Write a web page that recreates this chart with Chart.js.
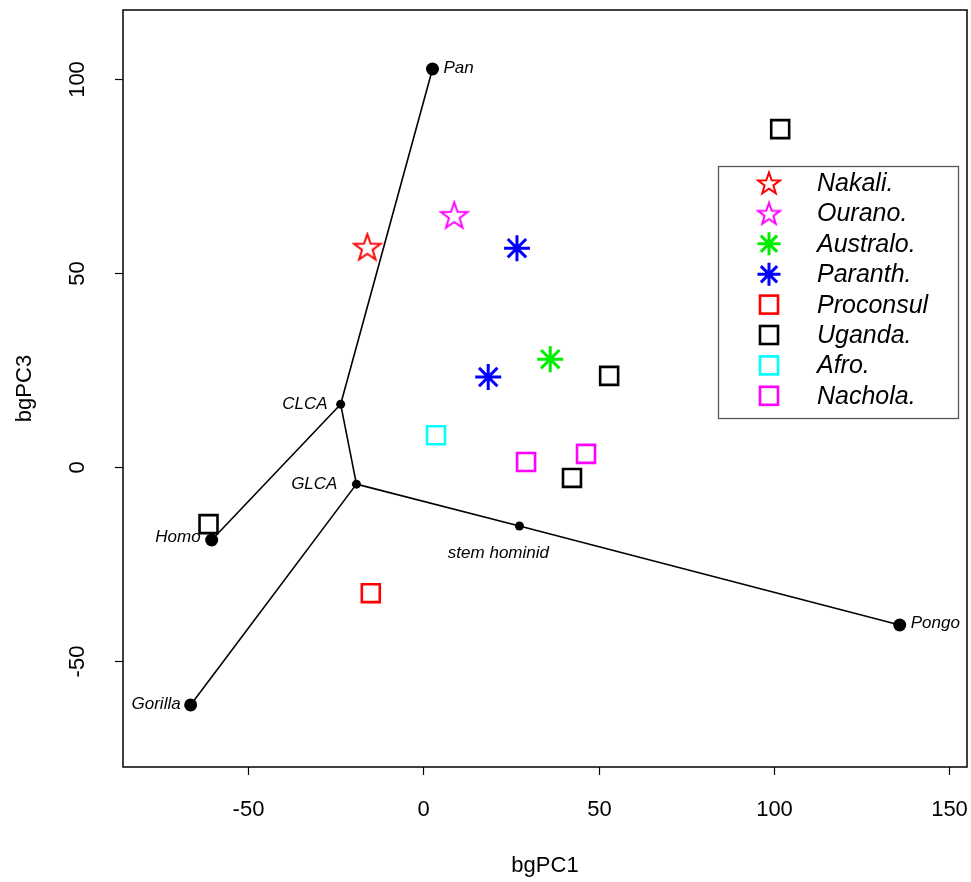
<!DOCTYPE html>
<html>
<head>
<meta charset="utf-8">
<script src="https://cdn.jsdelivr.net/npm/chart.js@4/dist/chart.umd.min.js"></script>
<style>
html,body{margin:0;padding:0;background:#fff;}
#wrap{width:971px;height:882px;}
</style>
</head>
<body>
<div id="wrap"><canvas id="c" width="971" height="882"></canvas></div>
<script>
// ---- data ----
const nodeNames = ['Pan','CLCA','GLCA','Homo','Gorilla','stem hominid','Pongo'];
const nodeX = [2.6, -23.6, -19.1, -60.4, -66.4, 27.4, 135.9];
const nodeY = [102.6, 16.2, -4.4, -18.8, -61.3, -15.2, -40.7];
const edgeFrom = [0, 1, 1, 2, 2, 5];
const edgeTo   = [1, 3, 2, 4, 5, 6];

const groups = ['Nakali.','Ourano.','Australo.','Paranth.','Proconsul','Uganda.','Afro.','Nachola.'];
const nakaliX = [-16.0], nakaliY = [56.7];
const ouranoX = [8.8], ouranoY = [64.9];
const australoX = [36.2], australoY = [27.8];
const paranthX = [26.7, 18.5], paranthY = [56.4, 23.2];
const proconsulX = [-15.0], proconsulY = [-32.5];
const ugandaX = [101.8, 53.0, 42.4, -61.3], ugandaY = [87.1, 23.5, -2.8, -14.7];
const afroX = [3.6], afroY = [8.2];
const nacholaX = [29.3, 46.4], nacholaY = [1.3, 3.4];

const xTicks = [-50, 0, 50, 100, 150];
const yTicks = [-50, 0, 50, 100];
const xTitle = 'bgPC1', yTitle = 'bgPC3';

// ---- helpers ----
function pts(xs, ys){ return xs.map((x,i)=>({x:x, y:ys[i]})); }
function starImage(color, size){
  const c = document.createElement('canvas');
  c.width = size; c.height = size;
  const g = c.getContext('2d');
  const cx = size/2, cy = size/2 + 1, R = size/2 - 1.5, r = R*0.40;
  g.beginPath();
  for (let k=0;k<10;k++){
    const a = -Math.PI/2 + k*Math.PI/5;
    const rr = (k%2===0)?R:r;
    const px = cx + rr*Math.cos(a), py = cy + rr*Math.sin(a);
    if(k===0) g.moveTo(px,py); else g.lineTo(px,py);
  }
  g.closePath();
  g.strokeStyle = color; g.lineWidth = 2; g.lineJoin='miter';
  g.stroke();
  return c;
}
const starRed = starImage('#ff0000', 31), starMag = starImage('#ff00ff', 31);
const starRedL = starImage('#ff0000', 26), starMagL = starImage('#ff00ff', 26);

const groupStyles = [
  {type:'img', img: starRed, limg: starRedL},
  {type:'img', img: starMag, limg: starMagL},
  {type:'ast', color:'#00ee00'},
  {type:'ast', color:'#0000ff'},
  {type:'sq', color:'#ff0000'},
  {type:'sq', color:'#000000'},
  {type:'sq', color:'#00ffff'},
  {type:'sq', color:'#ff00ff'}
];
const groupData = [
  pts(nakaliX,nakaliY), pts(ouranoX,ouranoY), pts(australoX,australoY), pts(paranthX,paranthY),
  pts(proconsulX,proconsulY), pts(ugandaX,ugandaY), pts(afroX,afroY), pts(nacholaX,nacholaY)
];

const datasets = [];
groups.forEach((name,i)=>{
  const s = groupStyles[i];
  const ds = {label:name, data: groupData[i], showLine:false};
  if (s.type==='img'){ ds.pointStyle = s.img; ds.pointRadius = 15; }
  else if (s.type==='ast'){ ds.pointStyle='star'; ds.pointRadius=13; ds.borderColor=s.color; ds.borderWidth=3; ds.backgroundColor=s.color; }
  else { ds.pointStyle='rect'; ds.pointRadius=12.7; ds.borderColor=s.color; ds.borderWidth=2.6; ds.backgroundColor='rgba(0,0,0,0)'; }
  datasets.push(ds);
});
// tree nodes
datasets.push({
  label:'nodes',
  data: pts(nodeX,nodeY),
  showLine:false,
  pointStyle:'circle',
  pointRadius: ctx => (['CLCA','GLCA','stem hominid'].includes(nodeNames[ctx.dataIndex]) ? 4.5 : 6.5),
  backgroundColor:'#000', borderColor:'#000', borderWidth:0
});
// tree edges
edgeFrom.forEach((f,i)=>{
  const t = edgeTo[i];
  datasets.push({
    label:'edge'+i,
    data:[{x:nodeX[f], y:nodeY[f]},{x:nodeX[t], y:nodeY[t]}],
    showLine:true, pointRadius:0, borderColor:'#000', borderWidth:1.6, fill:false
  });
});

const labelOffsets = {
  'Pan':{dx:11, dy:-1, align:'left'},
  'CLCA':{dx:-13, dy:0, align:'right'},
  'GLCA':{dx:-19, dy:0, align:'right'},
  'Homo':{dx:-11, dy:-3, align:'right'},
  'Gorilla':{dx:-10, dy:-1, align:'right'},
  'stem hominid':{dx:-21, dy:27, align:'center'},
  'Pongo':{dx:11, dy:-2, align:'left'}
};

const FONT = '"Liberation Sans", Arial, Helvetica, sans-serif';

const decor = {
  id:'decor',
  afterDatasetsDraw(chart){
    const ctx = chart.ctx, a = chart.chartArea;
    const xs = chart.scales.x, ys = chart.scales.y;
    ctx.save();
    // box
    ctx.strokeStyle = '#000'; ctx.lineWidth = 1.5;
    ctx.strokeRect(a.left, a.top, a.right-a.left, a.bottom-a.top);
    // ticks
    ctx.lineWidth = 1.2;
    ctx.fillStyle = '#000';
    ctx.font = '22px ' + FONT;
    ctx.textAlign='center'; ctx.textBaseline='middle';
    xTicks.forEach(v=>{
      const px = Math.round(xs.getPixelForValue(v))+0.5;
      ctx.beginPath(); ctx.moveTo(px, a.bottom); ctx.lineTo(px, a.bottom+8); ctx.stroke();
      ctx.fillText(String(v), px, 810);
    });
    yTicks.forEach(v=>{
      const py = Math.round(ys.getPixelForValue(v))+0.5;
      ctx.beginPath(); ctx.moveTo(a.left, py); ctx.lineTo(a.left-8, py); ctx.stroke();
      ctx.save(); ctx.translate(78, py); ctx.rotate(-Math.PI/2);
      ctx.fillText(String(v), 0, 0); ctx.restore();
    });
    // titles
    ctx.fillText(xTitle, (a.left+a.right)/2, 866);
    ctx.save(); ctx.translate(25, (a.top+a.bottom)/2); ctx.rotate(-Math.PI/2);
    ctx.fillText(yTitle, 0, 0); ctx.restore();
    // node labels
    ctx.font = 'italic 17px ' + FONT;
    nodeNames.forEach((n,i)=>{
      const o = labelOffsets[n];
      ctx.textAlign = o.align;
      ctx.fillText(n, xs.getPixelForValue(nodeX[i]) + o.dx, ys.getPixelForValue(nodeY[i]) + o.dy);
    });
    // legend
    const L = {left:718, top:166, right:958, bottom:418};
    ctx.fillStyle='#fff';
    ctx.fillRect(L.left, L.top, L.right-L.left, L.bottom-L.top);
    ctx.strokeStyle='#555'; ctx.lineWidth=1.3;
    ctx.strokeRect(L.left+0.5, L.top+0.5, L.right-L.left, L.bottom-L.top);
    ctx.font = 'italic 25px ' + FONT;
    ctx.textAlign='left'; ctx.textBaseline='middle'; ctx.fillStyle='#000';
    groups.forEach((g,i)=>{
      const cy = 183 + i*30.4, cx = 769;
      const s = groupStyles[i];
      if (s.type==='img'){
        ctx.drawImage(s.limg, cx - s.limg.width/2, cy - s.limg.height/2);
      } else if (s.type==='ast'){
        ctx.strokeStyle = s.color; ctx.lineWidth = 3; const r = 11.5;
        ctx.beginPath();
        ctx.moveTo(cx-r,cy); ctx.lineTo(cx+r,cy);
        ctx.moveTo(cx,cy-r); ctx.lineTo(cx,cy+r);
        const d = r*Math.SQRT1_2;
        ctx.moveTo(cx-d,cy-d); ctx.lineTo(cx+d,cy+d);
        ctx.moveTo(cx-d,cy+d); ctx.lineTo(cx+d,cy-d);
        ctx.stroke();
      } else {
        ctx.strokeStyle = s.color; ctx.lineWidth = 2.6;
        ctx.strokeRect(cx-9, cy-9, 18, 18);
      }
      ctx.fillStyle='#000';
      ctx.fillText(g, 817, cy+1);
    });
    ctx.restore();
  }
};

new Chart(document.getElementById('c'), {
  type:'scatter',
  data:{datasets},
  options:{
    responsive:false,
    animation:false,
    devicePixelRatio:1,
    layout:{autoPadding:false, padding:{left:123, top:10, right:4, bottom:115}},
    plugins:{legend:{display:false}, tooltip:{enabled:false}},
    scales:{
      x:{type:'linear', min:-85.7, max:155.1, display:false},
      y:{type:'linear', min:-77.3, max:117.8, display:false}
    }
  },
  plugins:[decor]
});
</script>
</body>
</html>
